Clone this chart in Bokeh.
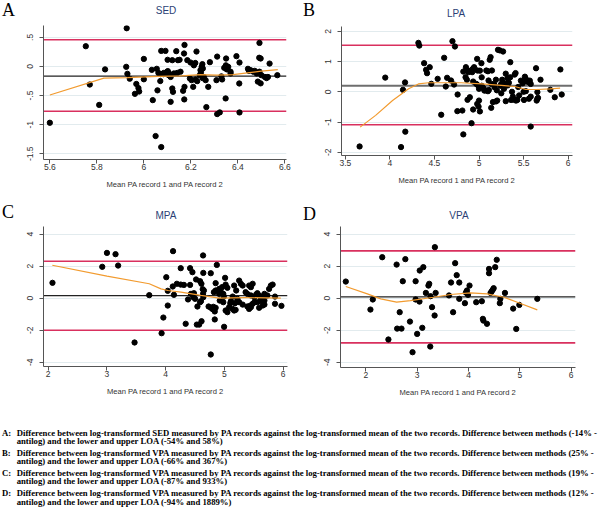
from bokeh.plotting import figure
from bokeh.models import Range1d, FixedTicker, Span, Div
from bokeh.layouts import column, row
from bokeh.embed import file_html
from bokeh.resources import INLINE

# ---------------- data ----------------
panel_letters = ["A", "B", "C", "D"]
panel_titles = ["SED", "LPA", "MPA", "VPA"]
x_axis_title = "Mean PA record 1 and PA record 2"

# Panel A (SED)
sed_x = [5.600, 5.753, 5.770, 5.810, 5.835, 5.927, 5.925, 5.930, 5.940, 5.968, 5.977, 5.980, 5.962, 6.000, 6.000,
         6.038, 6.034, 6.055, 6.062, 6.070, 6.058, 6.050, 6.074,
         6.074, 6.092, 6.083, 6.102, 6.107, 6.114, 6.121, 6.124, 6.138, 6.173, 6.171, 6.101, 6.121, 6.145, 6.152,
         6.185, 6.199, 6.219, 6.213, 6.224, 6.249, 6.246, 6.241, 6.251, 6.281, 6.312, 6.350, 6.349, 6.359, 6.342,
         6.353, 6.369, 6.369, 6.394, 6.407, 6.443, 6.447, 6.454, 6.466, 6.472, 6.480, 6.492, 6.491, 6.497, 6.535,
         6.492, 6.485, 6.497, 6.500, 6.515, 6.522, 6.528, 6.568,
         6.071, 6.085, 6.099, 6.106, 6.114, 6.128, 6.142, 6.156, 6.173, 6.167, 6.172, 6.196, 6.203, 6.210, 6.220,
         6.227, 6.263, 6.255, 6.274, 6.266, 6.312, 6.323, 6.348, 6.309, 6.333, 6.330, 6.406, 6.407,
         6.243, 6.238, 6.250]
sed_y = [-0.967, 0.348, -0.310, -0.660, -0.050, 0.657, -0.006, -0.126, -0.210, -0.300, -0.370, -0.430, -0.470, 0.130,
         -0.220, -0.578, -0.058, -0.040, -0.110, -0.250, -0.410, -1.195, -1.384,
         0.268, 0.268, -0.132, -0.080, -0.120, -0.607, -0.378, -0.436, 0.263, 0.370, 0.223, 0.115, 0.108, 0.108, 0.115,
         0.108, 0.068, 0.060, 0.020, 0.257, 0.040, -0.006, -0.063, -0.035, 0.074, 0.170, 0.137, 0.020, -0.006, -0.023,
         -0.050, -0.090, -0.120, 0.177, 0.068, -0.040, -0.075, -0.063, -0.090, -0.075, -0.120, 0.405, 0.150, 0.137, 0.050,
         -0.090, -0.260, -0.290, -0.150, -0.180, -0.200, -0.180, -0.150,
         -0.130, -0.110, -0.090, -0.150, -0.180, -0.120, -0.110, -0.090, -0.350, -0.418, -0.566, -0.206, -0.235, -0.350,
         -0.223, -0.252, -0.235, -0.180, -0.350, -0.698, -0.818, -0.789, -0.549, -0.235, -0.223, -0.170, -0.292, -0.790,
         -0.100, -0.150, -0.200]
sed_lowess_x = [5.60, 5.83, 5.93, 6.06, 6.16, 6.24, 6.31, 6.38, 6.44, 6.50, 6.57]
sed_lowess_y = [-0.49, -0.20, -0.19, -0.17, -0.16, -0.14, -0.15, -0.14, -0.11, -0.08, -0.055]
sed_mean = -0.167
sed_loa = [-0.768, 0.459]
sed_xticks = [5.6, 5.8, 6.0, 6.2, 6.4, 6.6]
sed_xtick_labels = ["5.6", "5.8", "6", "6.2", "6.4", "6.6"]
sed_yticks = [-1.5, -1.0, -0.5, 0.0, 0.5]
sed_ytick_labels = ["-1.5", "-1", "-.5", "0", ".5"]
sed_xrange = [5.573, 6.607]
sed_yrange = [-1.598, 0.704]

# Panel B (LPA)
lpa_x = [3.660, 3.948, 4.125, 4.173, 4.147, 4.170, 4.320, 4.330, 4.384, 4.406, 4.417, 4.447, 4.465, 4.536, 4.576,
         4.609, 4.627, 4.642, 4.686, 4.702, 4.730, 4.720, 4.760, 4.757, 4.813, 4.824, 4.824, 4.849, 4.853, 4.864,
         4.879, 4.871, 4.897, 4.916, 4.934, 4.945, 4.923, 4.934, 4.979, 4.982, 4.990, 5.000, 4.980, 4.995, 5.000,
         5.010, 5.027, 5.030, 5.030, 5.050, 5.070, 5.082, 5.100, 5.120, 5.130, 5.145, 5.107, 5.110, 5.137, 5.156,
         5.170, 5.200, 5.190, 5.213, 5.234, 5.270, 5.260, 5.240, 5.280, 5.204, 5.300, 5.300, 5.320, 5.335, 5.351,
         5.370, 5.390, 5.400, 5.440, 5.500, 5.515, 5.525, 5.535, 5.560, 5.580, 5.640, 5.655, 5.662, 5.647, 5.690,
         5.800, 5.850, 5.913, 5.928,
         4.880, 4.930, 5.010, 5.190, 5.250, 5.360, 5.380, 5.415, 5.430, 5.450, 5.505, 5.525, 5.580, 5.655, 5.470,
         5.490, 5.560, 5.570, 5.580, 4.970, 5.060, 5.100, 5.140, 5.175, 5.250, 5.285, 5.320, 5.410, 5.350]
lpa_y = [-1.81, 0.47, -1.83, -1.32, 0.066, 0.31, 1.62, 1.53, 0.947, 0.728, 0.616, 0.815, 0.265, 0.43, -0.76,
         1.126, 0.175, 0.463, 0.374, 1.676, 1.50, 0.24, -0.09, -0.64, -0.62, -1.41, 0.67, 0.483, 0.815, 0.40,
         0.705, -0.265, -0.18, -1.04, -0.586, 0.815, 0.65, 0.34, 1.09, 0.705, 0.21, 0.10, -0.40, -0.49, -0.29,
         -0.65, 0.947, 0.48, 0.20, 0.12, 0.05, 0.705, 0.68, 1.06, 1.15, 0.705, 0.374, 0.06, -0.53, -0.34,
         0.25, 0.05, 0.40, 1.39, 1.37, 1.334, 0.40, 0.20, 0.10, -0.29, -0.31, 0.60, 0.45, 0.30, 0.98,
         0.00, -0.26, 0.57, 0.16, 0.00, 0.50, 0.43, 0.34, -0.23, -1.15, 0.78, -0.01, -0.20, -0.29, 0.40,
         0.066, -0.18, 0.74, -0.09,
         0.65, 0.76, 0.70, -0.32, -0.05, -0.27, -0.16, -0.29, -0.27, -0.12, -0.27, 0.02, -0.16, -0.23, 0.37,
         0.28, 0.32, 0.37, 0.26, 0.26, 0.04, 0.02, 0.26, 0.15, 0.26, 0.28, 0.21, 0.62, 0.48]
lpa_lowess_x = [3.666, 3.84, 4.03, 4.21, 4.32, 4.435, 4.80, 5.03, 5.25, 5.40, 5.525, 5.655, 5.80, 5.91]
lpa_lowess_y = [-1.17, -0.78, -0.29, 0.10, 0.26, 0.30, 0.30, 0.265, 0.21, 0.175, 0.076, 0.076, 0.10, 0.12]
lpa_mean = 0.20
lpa_loa = [-1.09, 1.54]
lpa_xticks = [3.5, 4.0, 4.5, 5.0, 5.5, 6.0]
lpa_xtick_labels = ["3.5", "4", "4.5", "5", "5.5", "6"]
lpa_yticks = [-2, -1, 0, 1, 2]
lpa_ytick_labels = ["-2", "-1", "0", "1", "2"]
lpa_xrange = [3.457, 6.049]
lpa_yrange = [-2.109, 2.162]

# Panel C (MPA)
mpa_x = [2.073, 2.92, 3.0, 3.146, 3.19, 3.47, 3.72, 3.96, 3.93, 4.01, 4.035, 4.035, 4.125, 4.636, 4.87,
         4.256, 4.415, 4.455, 4.64, 4.767, 4.517, 4.585, 4.608, 5.011, 4.12, 4.19, 4.256, 4.31, 4.415, 4.14,
         4.34, 4.53, 4.57, 4.61, 4.38, 4.43, 4.48, 4.47, 4.50, 4.54, 4.60, 4.585, 4.64, 4.636, 4.65,
         4.63, 4.73, 4.77, 4.80, 4.85, 4.835, 4.81, 4.767, 4.835, 4.994, 4.82, 4.85, 4.91, 4.94, 4.96,
         5.02, 5.05, 4.98, 4.85, 4.91, 4.99, 4.92, 4.98, 5.02, 5.05, 5.08, 5.10, 5.11, 5.14, 5.165,
         5.25, 5.28, 5.31, 5.20, 5.42, 5.48, 5.45, 5.36, 5.39, 5.45, 5.51, 5.54, 5.56, 5.59, 5.62,
         5.65, 5.68, 5.22, 5.25, 5.31, 5.18, 5.14, 5.165, 5.19, 5.39, 5.42, 5.45, 5.44, 5.48, 5.51,
         5.56, 5.62, 5.65, 5.68, 5.59, 5.79, 5.82, 5.76, 5.86, 5.86, 5.97, 5.68, 5.73]
mpa_y = [0.96, 1.96, 2.83, 2.75, 2.04, -2.77, 0.19, -1.21, -2.19, 1.31, 0.46, -0.46, 2.94, 2.67, 2.08,
         1.875, 1.875, 1.625, 1.58, 1.56, 1.17, 1.06, 0.90, 1.27, 0.73, 0.90, 0.85, 0.83, 0.83, 0.21,
         -1.60, -1.65, -1.65, -1.44, -0.08, 0.27, 0.31, 0.06, -0.04, -0.52, -0.19, -0.25, 0.06, 0.27, 0.48,
         0.56, -0.52, -0.60, -0.69, -0.60, -0.83, -0.54, -3.52, -1.33, -1.79, 0.375, 0.48, 0.58, 0.375, 0.69,
         0.85, 0.65, 0.27, 0.94, 0.27, 0.10, -0.15, -0.25, -0.77, -0.875, -0.56, -0.31, -0.19, 0.10, 0.79,
         1.10, 0.90, 0.79, 0.48, 0.79, 0.90, 0.69, 0.375, 0.27, 0.17, 0.06, 0.23, 0.31, 0.17, -0.04,
         0.06, -0.15, -0.04, -0.25, -0.40, -0.31, -0.67, -0.77, -0.73, -0.52, -0.67, -0.56, -0.46, -0.35, -0.25,
         -0.25, -0.19, -0.46, -0.40, -0.60, 0.79, 0.85, 0.58, 0.10, -0.35, -0.48, 0.27, 0.17]
mpa_lowess_x = [2.07, 3.0, 3.72, 3.92, 4.04, 4.26, 4.60, 4.91, 5.34, 5.96]
mpa_lowess_y = [2.06, 1.375, 0.90, 0.58, 0.48, 0.375, 0.17, 0.0, 0.04, 0.0]
mpa_mean = 0.16
mpa_loa = [-2.0, 2.31]
mpa_xticks = [2, 3, 4, 5, 6]
mpa_xtick_labels = ["2", "3", "4", "5", "6"]
mpa_yticks = [-4, -2, 0, 2, 4]
mpa_ytick_labels = ["-4", "-2", "0", "2", "4"]
mpa_xrange = [1.92, 6.073]
mpa_yrange = [-4.27, 4.48]

# Panel D (VPA)
vpa_x = [1.61, 2.09, 2.136, 2.32, 2.44, 2.60, 2.72, 2.77, 2.66, 2.61, 2.695, 2.86, 2.91, 2.97, 2.97,
         3.00, 3.045, 3.05, 3.12, 3.10, 3.17, 3.22, 3.235, 3.26, 3.29, 3.34, 3.345, 3.36, 3.255, 3.62,
         3.66, 3.70, 3.74, 3.77, 3.82, 3.82, 3.93, 3.95, 3.97, 3.99, 4.02, 4.15, 4.26, 4.28, 4.29,
         4.36, 4.40, 4.40, 4.43, 4.45, 4.47, 4.49, 4.52, 4.55, 4.61, 4.62, 4.71, 4.87, 4.93, 4.99, 5.34]
vpa_y = [1.04, -0.71, -0.08, 2.56, -2.58, 2.10, 1.06, 2.44, -0.875, -1.90, -1.90, -1.46, -3.375, 1.06, -0.08,
         -2.23, -0.21, 1.73, 1.94, -1.85, 0.33, 0.79, 0.90, 0.125, -0.56, -1.08, 3.19, 0.33, -3.02, 0.17,
         0.98, -0.875, 2.19, 1.44, 0.98, -0.04, -0.31, 0.35, 0.48, 0.21, 0.79, -0.25, -0.19, -1.29, -1.40,
         -1.60, 1.83, 1.56, 0.33, 0.42, 0.52, 0.625, 1.94, 2.40, -0.31, -0.04, 0.33, -0.65, -1.92, -0.42, -0.04]
vpa_lowess_x = [1.61, 2.03, 2.29, 2.60, 2.87, 3.32, 3.65, 4.04, 4.36, 4.69, 4.95, 5.34]
vpa_lowess_y = [0.73, 0.27, -0.04, -0.25, -0.15, 0.06, 0.23, 0.33, 0.27, 0.06, -0.25, -0.73]
vpa_mean = 0.083
vpa_loa = [-2.79, 2.96]
vpa_xticks = [2, 3, 4, 5, 6]
vpa_xtick_labels = ["2", "3", "4", "5", "6"]
vpa_yticks = [-4, -2, 0, 2, 4]
vpa_ytick_labels = ["-4", "-2", "0", "2", "4"]
vpa_xrange = [1.507, 6.084]
vpa_yrange = [-4.33, 4.48]

caption_labels = ["A:", "B:", "C:", "D:"]
caption_lines = [
    ["Difference between log-transformed SED measured by PA records against the log-transformed mean of the two records. Difference between methods (-14% -",
     "antilog) and the lower and upper LOA (-54% and 58%)"],
    ["Difference between log-transformed VPA measured by PA records against the log-transformed mean of the two records. Difference between methods (25% -",
     "antilog) and the lower and upper LOA (-66% and 367%)"],
    ["Difference between log-transformed VPA measured by PA records against the log-transformed mean of the two records. Difference between methods (19% -",
     "antilog) and the lower and upper LOA (-87% and 933%)"],
    ["Difference between log-transformed VPA measured by PA records against the log-transformed mean of the two records. Difference between methods (12% -",
     "antilog) and the lower and upper LOA (-94% and 1889%)"],
]

# ---------------- styling / layout ----------------
RED = "#d9305e"
ORANGE = "#f29b2f"
GRID = "#e2ebee"
AXIS = "#555555"
TXT = "#333333"
TITLE_C = "#2b3f75"
SANS = "Liberation Sans"


def header(w, h, letter, lx, ly, title, tx, ty):
    html = (f'<div style="position:relative;width:{w}px;height:{h}px;overflow:visible;">'
            f'<span style="position:absolute;left:{lx}px;top:{ly - 10}px;height:20px;line-height:20px;'
            f'font-family:\'Liberation Serif\';font-size:18px;color:#000;white-space:nowrap;">{letter}</span>'
            f'<span style="position:absolute;left:{tx - 50}px;width:100px;text-align:center;top:{ty - 7}px;'
            f'height:14px;line-height:14px;font-family:\'Liberation Sans\';font-size:10px;'
            f'color:{TITLE_C};white-space:nowrap;">{title}</span></div>')
    return Div(text=html, width=w, height=h, margin=0)


def make_panel(px, py, lx, ly, mean, loa, xt, xtl, yt, ytl, xr, yr,
               w, h, bl, br, bt, bb, mean_color, mean_width):
    p = figure(width=w, height=h, x_range=Range1d(*xr), y_range=Range1d(*yr),
               output_backend="svg", toolbar_location=None, title=None,
               min_border_left=bl, min_border_right=br, min_border_top=bt, min_border_bottom=bb)
    p.outline_line_color = None
    p.background_fill_color = "white"
    p.border_fill_color = "white"
    p.xgrid.visible = False
    p.ygrid.grid_line_color = GRID
    p.ygrid.grid_line_width = 1

    p.xaxis.ticker = FixedTicker(ticks=xt)
    p.xaxis.major_label_overrides = {t: l for t, l in zip(xt, xtl)}
    p.yaxis.ticker = FixedTicker(ticks=yt)
    p.yaxis.major_label_overrides = {t: l for t, l in zip(yt, ytl)}
    p.ygrid.ticker = FixedTicker(ticks=yt)
    for ax in (p.xaxis[0], p.yaxis[0]):
        ax.axis_line_color = AXIS
        ax.major_tick_line_color = AXIS
        ax.major_tick_in = 0
        ax.major_tick_out = 4
        ax.minor_tick_line_color = None
        ax.major_label_text_font = SANS
        ax.major_label_text_font_size = "8.5px"
        ax.major_label_text_color = TXT
    p.xaxis.major_label_standoff = 0
    p.yaxis.major_label_standoff = 6
    p.yaxis.major_label_orientation = "vertical"
    p.xaxis.axis_label = x_axis_title
    p.xaxis.axis_label_text_font = SANS
    p.xaxis.axis_label_text_font_size = "7.6px"
    p.xaxis.axis_label_text_font_style = "normal"
    p.xaxis.axis_label_text_color = TXT
    p.xaxis.axis_label_standoff = 7

    for v in loa:
        p.add_layout(Span(location=v, dimension="width", line_color=RED, line_width=1.6, level="underlay"))
    p.add_layout(Span(location=mean, dimension="width", line_color=mean_color, line_width=mean_width,
                      level="underlay"))

    p.scatter(px, py, marker="circle", size=5.3, fill_color="black", line_color="black")
    p.line(lx, ly, line_color=ORANGE, line_width=1.2)
    return p


# top row: headers 0..20, plots 20..205 ; bottom row: headers 205..222, plots 222..420
hA = header(300, 20, panel_letters[0], 2, 10, panel_titles[0], 166, 11)
hB = header(300, 20, panel_letters[1], 3, 10, panel_titles[1], 156, 13.5)
hC = header(300, 17, panel_letters[2], 2, 7, panel_titles[2], 166, 11)
hD = header(300, 17, panel_letters[3], 3, 9, panel_titles[3], 159, 11)

pA = make_panel(sed_x, sed_y, sed_lowess_x, sed_lowess_y, sed_mean, sed_loa, sed_xticks, sed_xtick_labels,
                sed_yticks, sed_ytick_labels, sed_xrange, sed_yrange,
                300, 185, 43, 14, 5, 46, "#222222", 1.3)
pB = make_panel(lpa_x, lpa_y, lpa_lowess_x, lpa_lowess_y, lpa_mean, lpa_loa, lpa_xticks, lpa_xtick_labels,
                lpa_yticks, lpa_ytick_labels, lpa_xrange, lpa_yrange,
                300, 185, 41, 28, 6, 50, "#6e6e6e", 2.0)
pC = make_panel(mpa_x, mpa_y, mpa_lowess_x, mpa_lowess_y, mpa_mean, mpa_loa, mpa_xticks, mpa_xtick_labels,
                mpa_yticks, mpa_ytick_labels, mpa_xrange, mpa_yrange,
                300, 198, 43, 13, 4, 54, "#222222", 1.2)
pD = make_panel(vpa_x, vpa_y, vpa_lowess_x, vpa_lowess_y, vpa_mean, vpa_loa, vpa_xticks, vpa_xtick_labels,
                vpa_yticks, vpa_ytick_labels, vpa_xrange, vpa_yrange,
                300, 198, 40, 25, 4, 53, "#222222", 1.2)

entries = []
for i, (lab, lines) in enumerate(zip(caption_labels, caption_lines)):
    mt = 8.6 if i == 0 else 3.2
    entries.append(
        f'<div style="display:flex;margin-top:{mt}px;">'
        f'<span style="flex:none;width:14.7px;">{lab}</span>'
        f'<span>{lines[0]}<br>{lines[1]}</span></div>')
cap_html = ('<div style="padding-left:2px;font-family:\'Liberation Serif\';font-weight:bold;font-size:8.7px;'
            'line-height:8.5px;color:#000;white-space:nowrap;">' + "".join(entries) + '</div>')
cap = Div(text=cap_html, width=600, height=92, margin=0)

layout = column(row(column(hA, pA, spacing=0), column(hB, pB, spacing=0), spacing=0),
                row(column(hC, pC, spacing=0), column(hD, pD, spacing=0), spacing=0),
                cap, spacing=0)

open("out.html", "w").write(file_html(layout, INLINE))
